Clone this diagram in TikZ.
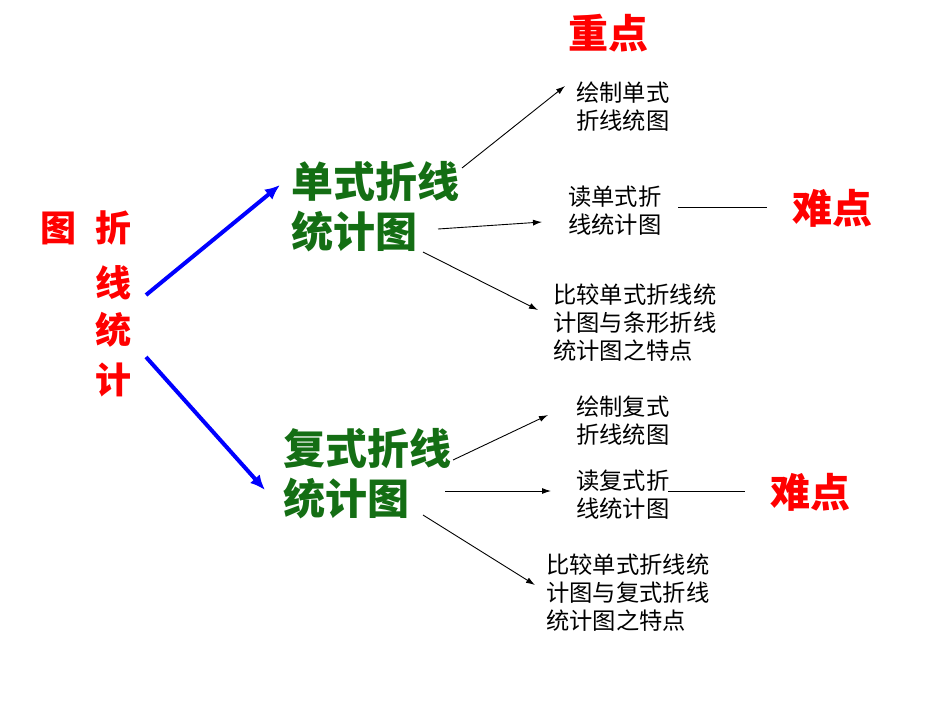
\documentclass[tikz,border=0pt]{standalone}
\usepackage{fontspec}
\setmainfont{Noto Sans CJK SC}
\usetikzlibrary{arrows.meta,calc}
\definecolor{dgreen}{RGB}{20,110,20}
\begin{document}
\begin{tikzpicture}[x=1pt,y=-1pt,
 small/.style={font=\fontsize{23.3}{28}\selectfont, align=left, anchor=west, inner sep=0},
 big/.style={font=\fontsize{42}{50}\selectfont\bfseries, text=dgreen, align=left, anchor=west, inner sep=0},
 keytext/.style={font=\fontsize{40}{40}\selectfont\bfseries, text=red, inner sep=0},
 vert/.style={font=\fontsize{36}{36}\selectfont\bfseries, text=red, inner sep=0},
 bluearrow/.style={draw=blue, line width=4, -{Latex[length=15,width=13]}},
 thinarrow/.style={draw=black, line width=0.9, -{Latex[length=9,width=6]}},
 plainline/.style={draw=black, line width=0.9},
]
\useasboundingbox (0,0) rectangle (950,713);
\node[keytext] (zd) at (608,33) {重点};
\node[vert] (tu) at (58,228) {图};
\node[vert] (zhe) at (113,228) {折};
\node[vert] (xian) at (113,283) {线};
\node[vert] (tong) at (113,330) {统};
\node[vert] (ji) at (113,380) {计};
\node[big] (dan) at (291,207) {单式折线\\统计图};
\node[big] (fu) at (283,474) {复式折线\\统计图};
\node[small] (a1) at (576,107) {绘制单式\\折线统图};
\node[small] (a2) at (568,211) {读单式折\\线统计图};
\node[small] (a3) at (553,323) {比较单式折线统\\计图与条形折线\\统计图之特点};
\node[keytext] (nd1) at (832,208) {难点};
\node[small] (b1) at (576,421) {绘制复式\\折线统图};
\node[small] (b2) at (576,495) {读复式折\\线统计图};
\node[small] (b3) at (546,593) {比较单式折线统\\计图与复式折线\\统计图之特点};
\node[keytext] (nd2) at (810,492) {难点};
\draw[bluearrow] ($(xian)+(33,12)$) -- ($(dan.west)+(-11,-22)$);
\draw[bluearrow] ($(ji)+(33,-23)$) -- ($(fu.west)+(-18,16)$);
\draw[thinarrow] ($(dan.west)+(171,-39)$) -- ($(a1.west)+(-11,-21)$);
\draw[thinarrow] ($(dan.west)+(147,22)$) -- ($(a2.west)+(-26,11)$);
\draw[thinarrow] ($(dan.west)+(132,45)$) -- ($(a3.west)+(-15,-13)$);
\draw[thinarrow] ($(fu.west)+(170,-14)$) -- ($(b1.west)+(-28,-6)$);
\draw[thinarrow] ($(fu.west)+(162,17)$) -- ($(b2.west)+(-25,-4)$);
\draw[thinarrow] ($(fu.west)+(140,41)$) -- ($(b3.west)+(-11,-8)$);
\draw[plainline] ($(a2.west)+(110,-4)$) -- ($(nd1.west)+(-25,-1)$);
\draw[plainline] ($(b2.west)+(92,-4)$) -- ($(nd2.west)+(-25,-1)$);
\end{tikzpicture}
\end{document}
